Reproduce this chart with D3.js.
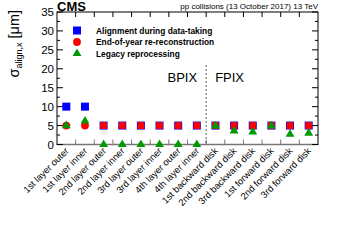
<!DOCTYPE html>
<html><head><meta charset="utf-8">
<script src="https://cdn.jsdelivr.net/npm/d3@7"></script>
<style>body{margin:0;background:#fff}svg{display:block}text{font-family:"Liberation Sans",Arial,sans-serif}</style>
</head><body><div id="c"></div>
<script>
const categories=["1st layer outer","1st layer inner","2nd layer outer","2nd layer inner","3rd layer outer","3rd layer inner","4th layer outer","4th layer inner","1st backward disk","2nd backward disk","3rd backward disk","1st forward disk","2nd forward disk","3rd forward disk"];
const dataTaking=[10.0,10.0,5,5,5,5,5,5,5,5,5,5,5,5];
const endOfYear=[5,5,5,5,5,5,5,5,5,5,5,5,5,5];
const legacy=[5.0,6.2,0,0,0,0,0,0,4.9,3.6,3.3,4.9,2.7,3.0];
const yTicks=[0,5,10,15,20,25,30,35];
const legendLabels=["Alignment during data-taking","End-of-year re-reconstruction","Legacy reprocessing"];

const W=354,H=242,L=57,R=318,T=12,B=144.5;
const svg=d3.select("#c").append("svg").attr("width",W).attr("height",H);
const x=d3.scaleBand().domain(categories).range([L,R]).padding(0);
const y=d3.scaleLinear().domain([0,35]).range([B,T]);
const bw=x.bandwidth();

// frame
svg.append("rect").attr("x",L).attr("y",T).attr("width",R-L).attr("height",B-T).attr("fill","none").attr("stroke","#000").attr("stroke-width",1);
svg.append("line").attr("x1",L).attr("x2",R).attr("y1",B).attr("y2",B).attr("stroke","#777").attr("stroke-width",1.5);

// y ticks left & right
const minor=d3.range(0,35.01,2.5);
minor.forEach(v=>{
  const maj=v%5===0, len=maj?6:3;
  svg.append("line").attr("x1",L).attr("x2",L+len).attr("y1",y(v)).attr("y2",y(v)).attr("stroke","#000");
  svg.append("line").attr("x1",R).attr("x2",R-len).attr("y1",y(v)).attr("y2",y(v)).attr("stroke","#000");
});
svg.selectAll(".yl").data(yTicks).enter().append("text").attr("x",L-3).attr("y",d=>y(d)+4).attr("text-anchor","end").attr("font-size",11.5).text(d=>d);

// x ticks top & bottom at bin edges
d3.range(1,categories.length).forEach(i=>{
  const xx=L+i*bw;
  svg.append("line").attr("x1",xx).attr("x2",xx).attr("y1",T).attr("y2",T+5).attr("stroke","#000");
  svg.append("line").attr("x1",xx).attr("x2",xx).attr("y1",B).attr("y2",B-5).attr("stroke","#777");
});
// x labels
svg.selectAll(".xl").data(categories).enter().append("text")
  .attr("transform",d=>`translate(${x(d)+bw/2+3},${B+7}) rotate(-45)`)
  .attr("text-anchor","end").attr("font-size",9.4).text(d=>d);

// dashed separator
const sep=L+8*bw;
svg.append("line").attr("x1",sep).attr("x2",sep).attr("y1",y(21)).attr("y2",B).attr("stroke","#333").attr("stroke-dasharray","2,2").attr("stroke-width",0.8);
svg.append("text").attr("x",sep-9).attr("y",y(16.5)).attr("text-anchor","end").attr("font-size",13).text("BPIX");
svg.append("text").attr("x",sep+9).attr("y",y(16.5)).attr("font-size",13).text("FPIX");

// markers
const cx=(d,i)=>x(categories[i])+bw/2;
const sq=8;
svg.selectAll(".b").data(dataTaking).enter().append("rect").attr("x",(d,i)=>cx(d,i)-sq/2).attr("y",d=>y(d)-sq/2).attr("width",sq).attr("height",sq).attr("fill","#0000ff");
svg.selectAll(".r").data(endOfYear).enter().append("path")
  .attr("d",(d,i)=>i<2?d3.symbol(d3.symbolCircle,48)():d3.symbol(d3.symbolSquare,46)())
  .attr("transform",(d,i)=>`translate(${cx(d,i)},${y(d)})`).attr("fill","#ff0000");
const tri=d3.symbol(d3.symbolTriangle,34)();
svg.selectAll(".g").data(legacy).enter().append("path").attr("d",tri)
  .attr("transform",(d,i)=>`translate(${cx(d,i)},${y(d)})`).attr("fill","#009900");

// legend
const lx=77, ly=[30.5,42,53.5];
svg.append("rect").attr("x",lx-4).attr("y",ly[0]-4).attr("width",8).attr("height",8).attr("fill","#0000ff");
svg.append("path").attr("d",d3.symbol(d3.symbolCircle,48)()).attr("transform",`translate(${lx},${ly[1]})`).attr("fill","#ff0000");
svg.append("path").attr("d",tri).attr("transform",`translate(${lx},${ly[2]})`).attr("fill","#009900");
legendLabels.forEach((t,i)=>svg.append("text").attr("x",96).attr("y",ly[i]+3).attr("font-size",8.4).attr("font-weight","bold").text(t));

// header
svg.append("text").attr("x",L).attr("y",10.5).attr("font-size",13).attr("font-weight","bold").text("CMS");
svg.append("text").attr("x",R).attr("y",9).attr("text-anchor","end").attr("font-size",8).text("pp collisions (13 October 2017) 13 TeV");

// y label
const yl=svg.append("text").attr("transform",`translate(19,10) rotate(-90)`).attr("text-anchor","end").attr("font-size",14.5);
yl.append("tspan").text("σ");
yl.append("tspan").attr("font-size",9).attr("dy",3).text("align,x");
yl.append("tspan").attr("dy",-3).text("  [μm]");
</script></body></html>
